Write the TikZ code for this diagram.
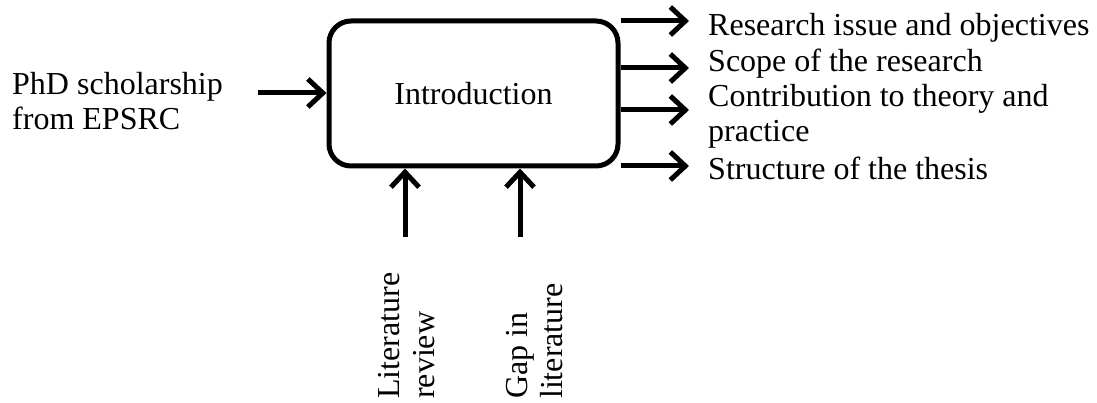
\documentclass[tikz,border=0pt]{standalone}
\usepackage{fontspec}
\setmainfont{Liberation Serif}
\usetikzlibrary{arrows.meta}
\begin{document}
\begin{tikzpicture}[x=1pt,y=-1pt,
  lbl/.style={inner sep=0pt, font=\fontsize{32}{35}\selectfont, align=left},
  procbox/.style={draw, line width=5pt, rounded corners=22pt,
    minimum width=289pt, minimum height=145pt, inner sep=0pt,
    font=\fontsize{32}{35}\selectfont},
  arr/.style={line width=5pt, -{Straight Barb[length=15pt,width=28pt]}}]
  \useasboundingbox (0,0) rectangle (1097,403);

  % central process
  \node[procbox] (intro) at (473.5,93.5) {Introduction};

  % input from the left (base anchor sits on the last line)
  \node[lbl, anchor=base west] (phd) at (12,130) {PhD scholarship\\from EPSRC};
  \coordinate (inL) at (258,93);
  \draw[arr] (inL) -- (inL -| intro.west);

  % outputs on the right
  \coordinate (t1) at (689,21);
  \coordinate (t2) at (689,68);
  \coordinate (t3) at (689,110);
  \coordinate (t4) at (689,166);
  \foreach \t in {t1,t2,t3,t4}
    \draw[arr] (intro.east |- \t) -- (\t);
  \node[lbl, anchor=base west] (o1) at (708,36) {Research issue and objectives};
  \node[lbl, anchor=base west] (o2) at (708,72) {Scope of the research};
  \node[lbl, anchor=base west] (o3) at (708,142) {Contribution to theory and\\practice};
  \node[lbl, anchor=base west] (o4) at (708,180) {Structure of the thesis};

  % controls from below
  \coordinate (b1) at (405,237);
  \coordinate (b2) at (520,237);
  \draw[arr] (b1) -- (b1 |- intro.south);
  \draw[arr] (b2) -- (b2 |- intro.south);
  \node[lbl, anchor=base west, rotate=90] (lit) at (434,399) {Literature\\review};
  \node[lbl, anchor=base west, rotate=90] (gap) at (562,399) {Gap in\\literature};
\end{tikzpicture}
\end{document}
